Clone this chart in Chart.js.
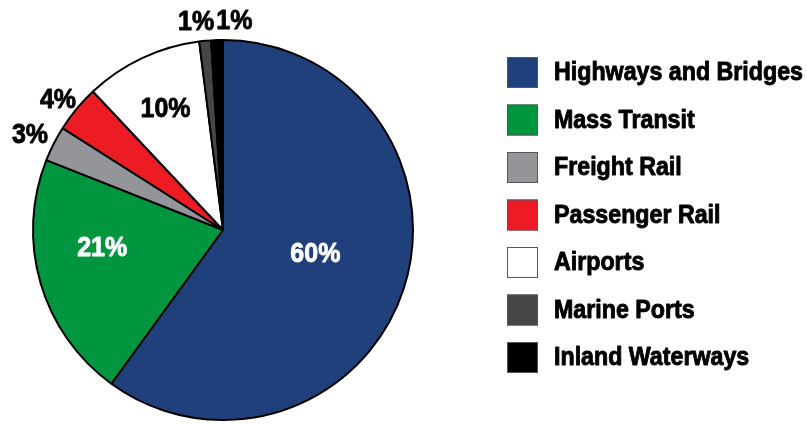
<!DOCTYPE html>
<html>
<head>
<meta charset="utf-8">
<script src="https://cdn.jsdelivr.net/npm/chart.js@4/dist/chart.umd.min.js"></script>
<style>
  html, body { margin: 0; padding: 0; background: #fff; }
  #wrap { width: 807px; height: 424px; position: relative; }
</style>
</head>
<body>
<div id="wrap"><canvas id="Graph"></canvas></div>
<script>
// Data (percent of total)
var categories = ['Highways and Bridges', 'Mass Transit', 'Freight Rail', 'Passenger Rail', 'Airports', 'Marine Ports', 'Inland Waterways'];
var shares = [60, 21, 3, 4, 10, 1, 1];
var sliceColors = ['#20407c', '#00963f', '#939598', '#ed1c24', '#ffffff', '#464648', '#000000'];
var labelColors = ['#fff', '#fff', '#000', '#000', '#000', '#000', '#000'];

// where each % label sits: fraction of radius along the middle of the slice, plus small nudges
var labelRadius = [0.5, 0.64, 1.14, 1.1, 0.71, 1.11, 1.11];
var labelNudgeX = [2, -4, 0, -4, 0, -7, 18];
var labelNudgeY = [-5, -16, 4, 4, 1, 2, 2];

var FONT = '"Liberation Sans", Arial, sans-serif';

// condensed heavy look: squeeze a bold face horizontally and thicken it a little
function squeezedText(ctx, text, x, y, sx) {
  ctx.save();
  ctx.translate(x, y);
  ctx.scale(sx, 1);
  ctx.strokeStyle = ctx.fillStyle;
  ctx.lineWidth = 0.9;
  ctx.lineJoin = 'round';
  ctx.strokeText(text, 0, 0);
  ctx.fillText(text, 0, 0);
  ctx.restore();
}

// percent labels on/around the slices
var sliceLabels = {
  id: 'sliceLabels',
  afterDatasetsDraw: function(chart) {
    var ctx = chart.ctx;
    var arcs = chart.getDatasetMeta(0).data;
    ctx.save();
    ctx.font = 'bold 28px ' + FONT;
    ctx.textAlign = 'center';
    ctx.textBaseline = 'middle';
    var sx = 50 / ctx.measureText('60%').width;
    arcs.forEach(function(arc, i) {
      var p = arc.getProps(['x', 'y', 'startAngle', 'endAngle', 'outerRadius'], true);
      var mid = (p.startAngle + p.endAngle) / 2;
      var r = p.outerRadius * labelRadius[i];
      ctx.fillStyle = labelColors[i];
      squeezedText(ctx, shares[i] + '%', p.x + Math.cos(mid) * r + labelNudgeX[i], p.y + Math.sin(mid) * r + labelNudgeY[i], sx);
    });
    ctx.restore();
  }
};

// legend on the right, square swatches
var sideLegend = {
  id: 'sideLegend',
  afterDraw: function(chart) {
    var ctx = chart.ctx;
    var x0 = 507, y0 = 57, box = 31, step = 47.5;
    ctx.save();
    ctx.font = 'bold 25px ' + FONT;
    ctx.textBaseline = 'middle';
    ctx.textAlign = 'left';
    var sx = 249 / ctx.measureText(categories[0]).width;
    categories.forEach(function(name, i) {
      var y = y0 + i * step;
      ctx.fillStyle = sliceColors[i];
      ctx.fillRect(x0, y, box, box);
      ctx.lineWidth = 1;
      ctx.strokeStyle = '#555';
      ctx.strokeRect(x0 + 0.5, y + 0.5, box - 1, box - 1);
      ctx.fillStyle = '#000';
      squeezedText(ctx, name, 554, y + box / 2 + 1, sx);
    });
    ctx.restore();
  }
};

var chart = new Chart(document.getElementById('Graph').getContext('2d'), {
  type: 'pie',
  data: {
    labels: categories,
    datasets: [{
      data: shares,
      backgroundColor: sliceColors,
      borderColor: '#000',
      borderWidth: 2
    }]
  },
  options: {
    responsive: true,
    maintainAspectRatio: false,
    animation: false,
    layout: { padding: { top: 39, bottom: 3, left: 32, right: 393 } },
    plugins: {
      legend: { display: false },
      tooltip: { enabled: false }
    }
  },
  plugins: [sliceLabels, sideLegend]
});
</script>
</body>
</html>
